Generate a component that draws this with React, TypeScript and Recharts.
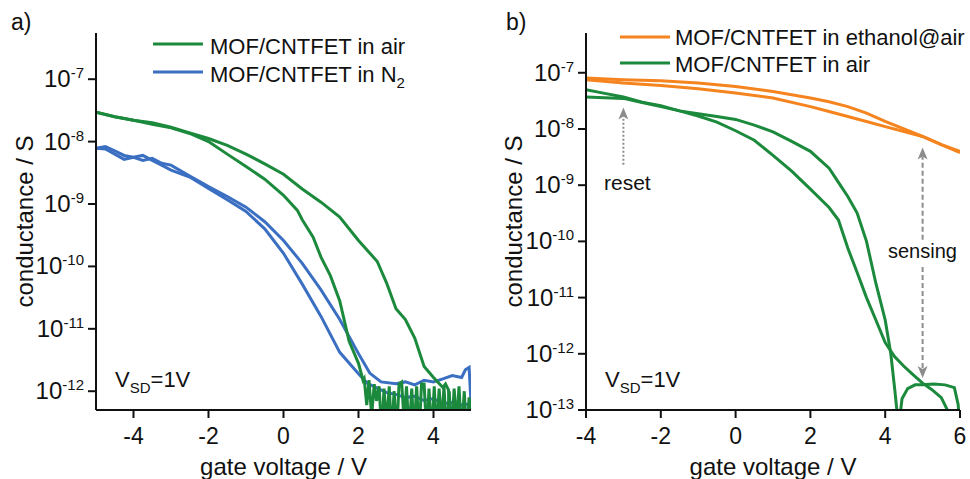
import { LineChart, Line, XAxis, YAxis, ReferenceLine, ReferenceDot } from 'recharts'

const FONT = '"Liberation Sans", Arial, sans-serif'
const GREEN = '#1c8a3c'
const BLUE = '#3b6fc2'
const ORANGE = '#f5841f'
const GRAY = '#8c8c8c'

// ---- panel a: gate sweeps, conductance in S ----
const airUpV = [-5, -4.5, -4, -3.5, -3, -2.5, -2, -1.5, -1, -0.5, 0, 0.5, 1, 1.5, 2, 2.5, 2.75, 3, 3.25, 3.5, 3.75, 4, 4.25, 4.32, 4.4, 4.45]
const airUpG = [2.95e-8, 2.5e-8, 2.2e-8, 2.0e-8, 1.7e-8, 1.38e-8, 1.12e-8, 8.7e-9, 6.3e-9, 4.4e-9, 3.0e-9, 1.74e-9, 1.07e-9, 6.2e-10, 2.6e-10, 1.2e-10, 5.4e-11, 2.1e-11, 1.41e-11, 7.1e-12, 2.5e-12, 1.66e-12, 1.15e-12, 1.3e-12, 1.05e-12, 2e-13]

const airLoV = [-5, -4.5, -4, -3.5, -3, -2.5, -2, -1.5, -1, -0.5, 0, 0.37, 0.5, 0.79, 1, 1.25, 1.5, 1.75, 2, 2.12,
  2.15, 2.22, 2.28, 2.35, 2.42, 2.48, 2.55, 2.62, 2.68, 2.75, 2.82, 2.88, 2.95, 3.02, 3.08, 3.15, 3.22, 3.28, 3.35, 3.42, 3.48,
  3.55, 3.62, 3.68, 3.75, 3.82, 3.88, 3.95, 4.02, 4.08, 4.15, 4.22, 4.28, 4.35, 4.42, 4.48, 4.55, 4.62, 4.68, 4.75, 4.82, 4.88, 4.95, 5.0]
const airLoG = [2.95e-8, 2.5e-8, 2.2e-8, 1.9e-8, 1.66e-8, 1.35e-8, 1.0e-8, 6.3e-9, 4.0e-9, 2.5e-9, 1.38e-9, 7.9e-10, 5.6e-10, 2.95e-10, 1.41e-10, 7.1e-11, 2.8e-11, 6.3e-12, 2.8e-12, 1.5e-12,
  1.6e-12, 6e-13, 1.5e-12, 4e-13, 1.3e-12, 7e-13, 1.2e-12, 2e-13, 1.1e-12, 3e-13, 1.2e-12, 2e-13, 1.0e-12, 2e-13, 1.3e-12, 1.4e-12, 3e-13, 1.2e-12, 2e-13, 1.1e-12, 2e-13,
  1.2e-12, 2e-13, 1.3e-12, 1.3e-12, 2e-13, 1.1e-12, 2e-13, 1.2e-12, 2e-13, 1.1e-12, 3e-13, 1.2e-12, 2e-13, 1.0e-12, 2e-13, 1.1e-12, 3e-13, 1.2e-12, 2e-13, 1.0e-12, 2e-13, 8e-13, 2e-13]

const n2AV = [-5, -4.75, -4.5, -4.25, -4, -3.75, -3.5, -3.25, -3, -2.5, -2, -1.5, -1, -0.5, 0, 0.5, 1, 1.5, 2, 2.25, 2.5, 2.75, 3, 3.25, 3.5, 3.75, 4, 4.25, 4.5, 4.75, 5]
const n2AG = [7.8e-9, 8.3e-9, 7.1e-9, 6.0e-9, 5.6e-9, 6.0e-9, 5.0e-9, 4.2e-9, 3.5e-9, 2.7e-9, 1.78e-9, 1.17e-9, 7.6e-10, 4.0e-10, 1.62e-10, 5.2e-11, 1.58e-11, 4.2e-12, 1.9e-12, 1.32e-12, 1.12e-12, 9.5e-13, 8.9e-13, 7.9e-13, 8.3e-13, 7.1e-13, 7.6e-13, 6.3e-13, 6.6e-13, 6.0e-13, 6.3e-13]

const n2BV = [-5, -4.75, -4.5, -4.25, -4, -3.75, -3.5, -3.25, -3, -2.5, -2, -1.5, -1, -0.5, 0, 0.5, 1, 1.5, 2, 2.3, 2.6, 3, 3.25, 3.5, 3.75, 4, 4.25, 4.5, 4.75, 4.85, 4.95, 5]
const n2BG = [7.8e-9, 7.6e-9, 6.3e-9, 5.2e-9, 5.6e-9, 5.0e-9, 5.4e-9, 4.5e-9, 4.2e-9, 2.8e-9, 1.9e-9, 1.32e-9, 8.9e-10, 5.2e-10, 2.6e-10, 1.12e-10, 4.2e-11, 1.41e-11, 4.0e-12, 1.95e-12, 1.41e-12, 1.32e-12, 1.41e-12, 1.26e-12, 1.5e-12, 1.41e-12, 1.58e-12, 1.78e-12, 1.66e-12, 2.2e-12, 2.4e-12, 6.3e-13]

// ---- panel b ----
const ethUpV = [-4, -3, -2, -1, 0, 1, 2, 2.5, 3, 3.5, 4, 4.5, 5, 5.5, 6]
const ethUpG = [8.05e-8, 7.5e-8, 7.2e-8, 6.56e-8, 5.7e-8, 4.65e-8, 3.55e-8, 3.05e-8, 2.5e-8, 1.92e-8, 1.36e-8, 1.0e-8, 7.35e-9, 5.25e-9, 3.8e-9]
const ethLoV = [-4, -3, -2, -1, 0, 1, 2, 2.5, 3, 3.5, 4, 4.5, 5, 5.5, 6]
const ethLoG = [7.5e-8, 6.56e-8, 5.94e-8, 5.19e-8, 4.36e-8, 3.55e-8, 2.5e-8, 2.05e-8, 1.67e-8, 1.36e-8, 1.1e-8, 9.0e-9, 7.35e-9, 5.25e-9, 4.0e-9]

const airRV = [-4, -3.5, -3, -2.5, -2, -1.5, -1, -0.5, 0, 0.5, 1, 1.5, 2, 2.5, 2.75, 3, 3.25, 3.5, 3.75, 4, 4.15, 4.25, 4.32, 4.36, 4.45, 4.6, 4.8, 5, 5.3, 5.6, 5.85, 5.95, 6]
const airRG = [5.0e-8, 4.3e-8, 3.7e-8, 3.0e-8, 2.6e-8, 2.1e-8, 1.86e-8, 1.66e-8, 1.48e-8, 1.17e-8, 8.9e-9, 6.0e-9, 4.0e-9, 2.0e-9, 1.12e-9, 6.3e-10, 3.2e-10, 1.0e-10, 1.8e-11, 4.0e-12, 1.0e-12, 2.5e-13, 8.9e-14, 5e-14, 1.58e-13, 2.4e-13, 2.8e-13, 2.8e-13, 2.9e-13, 2.8e-13, 2.5e-13, 1.26e-13, 5e-14]

const airLV = [-4, -3.5, -3, -2.5, -2, -1.5, -1, -0.5, 0, 0.5, 1, 1.5, 2, 2.5, 2.75, 3, 3.25, 3.5, 3.75, 4, 4.25, 4.5, 4.75, 5, 5.25, 5.5, 5.7]
const airLG = [3.7e-8, 3.6e-8, 3.5e-8, 2.95e-8, 2.5e-8, 2.1e-8, 1.7e-8, 1.32e-8, 9.3e-9, 6.3e-9, 3.4e-9, 1.78e-9, 8.5e-10, 4.0e-10, 2.4e-10, 7.6e-11, 2.8e-11, 1.0e-11, 4.0e-12, 1.58e-12, 8.9e-13, 6.0e-13, 4.2e-13, 3.0e-13, 2.3e-13, 1.66e-13, 8.9e-14]

const ticksA = [1e-12, 1e-11, 1e-10, 1e-9, 1e-8, 1e-7]
const ticksB = [1e-13, 1e-12, 1e-11, 1e-10, 1e-9, 1e-8, 1e-7]

const pts = (v: number[], g: number[]) => v.map((x, i) => ({ v: x, g: g[i] }))

function PowTick({ x, y, payload }: any) {
  const e = Math.round(Math.log10(payload.value))
  return (
    <text x={x} y={y + 8} textAnchor="end" fontSize={24} fill="#111" fontFamily={FONT}>
      10<tspan dy={-9} fontSize={15}>{e}</tspan>
    </text>
  )
}

const xTitle = (props: any) => {
  const vb = props.viewBox || {}
  return (
    <text x={vb.x + vb.width / 2} y={vb.y + 65} textAnchor="middle" fontSize={24} fill="#111" fontFamily={FONT}>
      gate voltage / V
    </text>
  )
}

const yTitle = (dx: number) => (props: any) => {
  const vb = props.viewBox || {}
  const cx = vb.x + dx
  const cy = vb.y + vb.height / 2
  return (
    <text x={cx} y={cy} transform={`rotate(-90, ${cx}, ${cy})`} textAnchor="middle" fontSize={24} fill="#111" fontFamily={FONT}>
      conductance / S
    </text>
  )
}

const upHead = (p: any) => (
  <polygon points={`${p.cx},${p.cy} ${p.cx + 5},${p.cy + 12} ${p.cx},${p.cy + 9} ${p.cx - 5},${p.cy + 12}`} fill={GRAY} />
)
const downHead = (p: any) => (
  <polygon points={`${p.cx},${p.cy} ${p.cx + 5},${p.cy - 12} ${p.cx},${p.cy - 9} ${p.cx - 5},${p.cy - 12}`} fill={GRAY} />
)

const axisProps = {
  stroke: '#111',
  strokeWidth: 2,
  tickSize: 8,
}

const line = (data: any[], color: string, key: string) => (
  <Line key={key} data={data} dataKey="g" type="linear" stroke={color} strokeWidth={3} dot={false} isAnimationActive={false} />
)

export default function App() {
  const t = { fontFamily: FONT, fill: '#111' }
  return (
    <div style={{ position: 'absolute', left: 0, top: 0, width: 970, height: 479, background: '#fff', overflow: 'hidden' }}>
      <div style={{ position: 'absolute', left: 0, top: 0 }}>
        <LineChart width={485} height={479} margin={{ top: 33, right: 14, bottom: 0, left: 0 }}>
          <XAxis dataKey="v" type="number" domain={[-5, 5]} ticks={[-4, -2, 0, 2, 4]} allowDataOverflow height={69}
            {...axisProps} tickMargin={10} tick={{ fontSize: 23, fill: '#111', fontFamily: FONT }} label={{ content: xTitle }} />
          <YAxis type="number" scale="log" domain={[5e-13, 5.5e-7]} ticks={ticksA} interval={0} allowDataOverflow width={96}
            {...axisProps} tickMargin={4} tick={<PowTick />} label={{ content: yTitle(33) }} />
          {line(pts(n2AV, n2AG), BLUE, 'n2a')}
          {line(pts(n2BV, n2BG), BLUE, 'n2b')}
          {line(pts(airUpV, airUpG), GREEN, 'airUp')}
          {line(pts(airLoV, airLoG), GREEN, 'airLo')}
        </LineChart>
      </div>
      <div style={{ position: 'absolute', left: 485, top: 0 }}>
        <LineChart width={485} height={479} margin={{ top: 33, right: 10, bottom: 0, left: 0 }}>
          <XAxis dataKey="v" type="number" domain={[-4, 6]} ticks={[-4, -2, 0, 2, 4, 6]} allowDataOverflow height={69}
            {...axisProps} tickMargin={10} tick={{ fontSize: 23, fill: '#111', fontFamily: FONT }} label={{ content: xTitle }} />
          <YAxis type="number" scale="log" domain={[1e-13, 5.1e-7]} ticks={ticksB} interval={0} allowDataOverflow width={101}
            {...axisProps} tickMargin={4} tick={<PowTick />} label={{ content: yTitle(37) }} />
          {line(pts(ethUpV, ethUpG), ORANGE, 'ethUp')}
          {line(pts(ethLoV, ethLoG), ORANGE, 'ethLo')}
          {line(pts(airRV, airRG), GREEN, 'airR')}
          {line(pts(airLV, airLG), GREEN, 'airL')}
          {/* reset arrow */}
          <ReferenceLine segment={[{ x: -3, y: 2.3e-9 }, { x: -3, y: 1.8e-8 }]} stroke={GRAY} strokeWidth={2} strokeDasharray="2 2" />
          <ReferenceDot x={-3} y={2.4e-8} r={5} shape={upHead} />
          {/* sensing arrow */}
          <ReferenceLine segment={[{ x: 5, y: 1.07e-10 }, { x: 5, y: 3.2e-9 }]} stroke={GRAY} strokeWidth={2} strokeDasharray="5 3" />
          <ReferenceLine segment={[{ x: 5, y: 5.6e-13 }, { x: 5, y: 3.8e-11 }]} stroke={GRAY} strokeWidth={2} strokeDasharray="5 3" />
          <ReferenceDot x={5} y={4.7e-9} r={5} shape={upHead} />
          <ReferenceDot x={5} y={3.7e-13} r={5} shape={downHead} />
        </LineChart>
      </div>
      <svg width={970} height={479} style={{ position: 'absolute', left: 0, top: 0, pointerEvents: 'none' }}>
        <text x={11} y={30} fontSize={23} {...t}>a)</text>
        <text x={506} y={30} fontSize={23} {...t}>b)</text>

        <line x1={153} x2={203} y1={44} y2={44} stroke={GREEN} strokeWidth={3} />
        <text x={210} y={54} fontSize={22} {...t}>MOF/CNTFET in air</text>
        <line x1={153} x2={203} y1={72} y2={72} stroke={BLUE} strokeWidth={3} />
        <text x={210} y={82} fontSize={22} {...t}>MOF/CNTFET in N<tspan dy={6} fontSize={15}>2</tspan></text>

        <line x1={620} x2={670} y1={37} y2={37} stroke={ORANGE} strokeWidth={3} />
        <text x={675} y={45} fontSize={22} {...t}>MOF/CNTFET in ethanol@air</text>
        <line x1={620} x2={670} y1={63} y2={63} stroke={GREEN} strokeWidth={3} />
        <text x={675} y={72} fontSize={22} {...t}>MOF/CNTFET in air</text>

        <text x={115} y={387} fontSize={22} {...t}>V<tspan dy={6} fontSize={15}>SD</tspan><tspan dy={-6}>=1V</tspan></text>
        <text x={605} y={387} fontSize={22} {...t}>V<tspan dy={6} fontSize={15}>SD</tspan><tspan dy={-6}>=1V</tspan></text>

        <text x={604} y={190} fontSize={21} {...t}>reset</text>
        <text x={888} y={258} fontSize={20} {...t}>sensing</text>
      </svg>
    </div>
  )
}
